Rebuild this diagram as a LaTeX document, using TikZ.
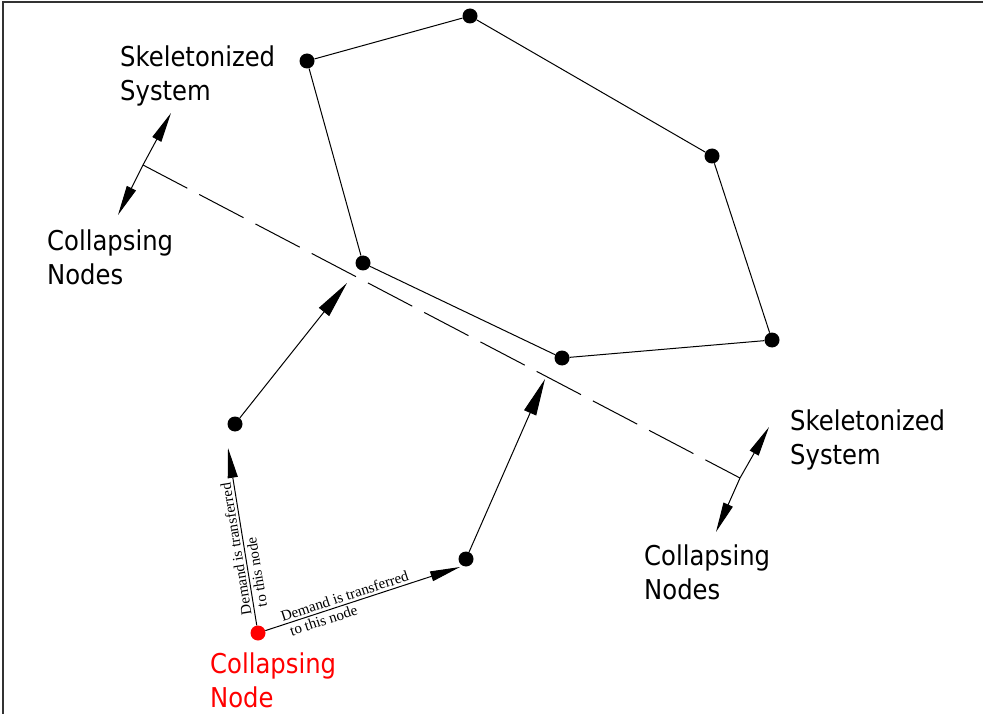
\documentclass[tikz,border=0pt]{standalone}
\usepackage{fontspec}
\setmainfont{Liberation Serif}
\newfontfamily\labelfont[FakeStretch=0.89]{DejaVu Sans}
\usetikzlibrary{arrows.meta}

\begin{document}
\begin{tikzpicture}[x=1pt,y=-1pt,
  vertex/.style={circle,fill=black,inner sep=0pt,minimum size=15pt},
  collapsed/.style={circle,fill=red,inner sep=0pt,minimum size=15pt},
  pipe/.style={line width=1pt},
  transfer/.style={line width=1pt,-{Triangle[length=37pt,width=13pt]}},
  dimarrow/.style={line width=1pt,-{Triangle[length=30pt,width=10pt]}},
  cutline/.style={line width=1pt,dash pattern=on 50pt off 13.5pt},
  caption/.style={font=\labelfont\fontsize{27.3}{34}\selectfont,align=left,inner sep=0pt,anchor=west},
  note/.style={font=\fontsize{15}{16}\selectfont,inner sep=2.5pt,sloped,allow upside down}
]
\useasboundingbox (0,0) rectangle (983,714);
\draw[line width=2pt,black!80] (3,714) -- (3,2) -- (983,2);

% skeletonized network
\node[vertex] (A) at (470,16) {};
\node[vertex] (B) at (307,61) {};
\node[vertex] (C) at (712,156) {};
\node[vertex] (D) at (363,263) {};
\node[vertex] (E) at (772,340) {};
\node[vertex] (F) at (562,358) {};
% collapsing part
\node[vertex] (G) at (235,424) {};
\node[vertex] (H) at (466,559) {};
\node[collapsed] (R) at (258,633) {};

\draw[pipe] (B) -- (A) -- (C) -- (E) -- (F) -- (D) -- (B);

% section line with direction arrows
\coordinate (L0) at (143,165);
\coordinate (L1) at (171,113);
\coordinate (L2) at (118,215);
\coordinate (M0) at (740,478);
\coordinate (M1) at (769,427);
\coordinate (M2) at (716,532);
\draw[cutline] (L0) -- (M0);
\draw[dimarrow] (L0) -- (L1);
\draw[dimarrow] (L0) -- (L2);
\draw[dimarrow] (M0) -- (M1);
\draw[dimarrow] (M0) -- (M2);

% transfers across the section line
\coordinate (TG) at (347,283);
\coordinate (TH) at (545,379);
\draw[transfer] (G) -- (TG);
\draw[transfer] (H) -- (TH);

% demand transfer from the collapsing node
\coordinate (RG) at (228,448);
\coordinate (RH) at (460,567);
\draw[dimarrow] (R) -- (RG)
  node[note,pos=0.05,anchor=south west] {Demand is transferred}
  node[note,pos=0.08,anchor=north west] {to this node};
\draw[dimarrow] (R) -- (RH)
  node[note,pos=0.08,anchor=south west] {Demand is transferred}
  node[note,pos=0.1,anchor=north west] {to this node};

% captions
\node[caption] (sk1) at (120,76) {Skeletonized\\System};
\node[caption] (cn1) at (47,257) {Collapsing\\Nodes};
\node[caption] (sk2) at (790,440) {Skeletonized\\System};
\node[caption] (cn2) at (644,572) {Collapsing\\Nodes};
\node[caption,text=red] (cr) at (210,680) {Collapsing\\Node};
\end{tikzpicture}
\end{document}
